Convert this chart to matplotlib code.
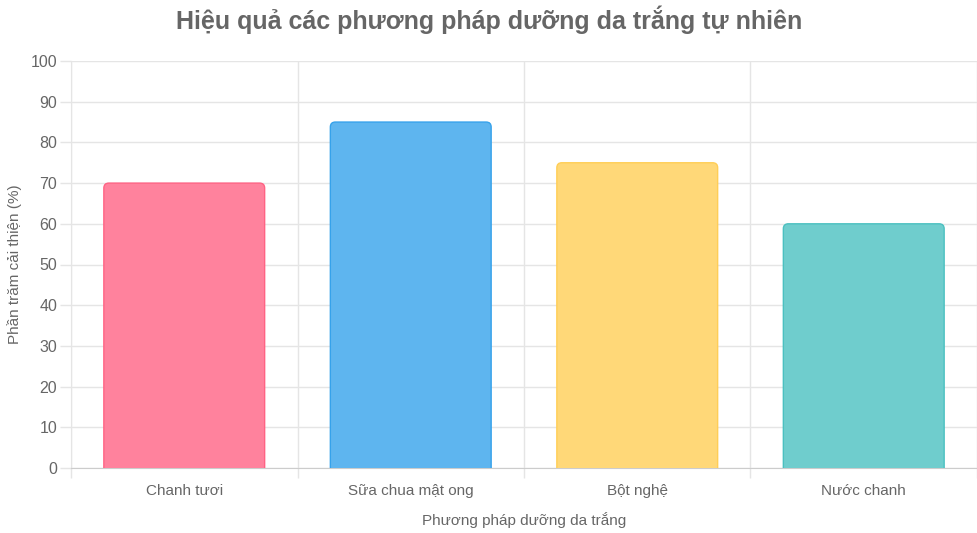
import numpy as np
import matplotlib.pyplot as plt
from matplotlib.patches import FancyBboxPatch

plt.rcParams['font.family'] = ['Liberation Sans', 'DejaVu Sans']

# data
methods = ['Chanh tươi', 'Sữa chua mật ong', 'Bột nghệ', 'Nước chanh']
improvement = [70, 85, 75, 60]
fill_colors = ['#ff829d', '#5eb5ef', '#ffd878', '#6fcdcd']
edge_colors = ['#ff6384', '#36a2eb', '#ffce56', '#4bc0c0']

fig = plt.figure(figsize=(9.78, 5.33), dpi=100)
ax = fig.add_axes([71/978, 65/533, 906/978, 407/533])

x = np.arange(len(methods))
width = 0.71
# rounded top corners (radius ~5px), bottom pushed below 0 and clipped
rx = 5/226.5
ry = 5/4.07
for i in range(len(methods)):
    box = FancyBboxPatch((x[i] - width/2, -3), width, improvement[i] + 3,
                         boxstyle="round,pad=0,rounding_size=%f" % rx,
                         mutation_aspect=ry/rx,
                         facecolor=fill_colors[i], edgecolor=edge_colors[i],
                         linewidth=1, zorder=3)
    ax.add_patch(box)

ax.set_xlim(-0.5, len(methods) - 0.5)
ax.set_ylim(0, 100)

grid_c = '#e5e5e5'
ax.set_yticks(np.arange(0, 101, 10))
ax.set_xticks(np.arange(-0.5, len(methods), 1))
ax.set_xticklabels([])
ax.set_xticks(x, minor=True)
ax.set_xticklabels(methods, minor=True)
ax.tick_params(axis='x', which='minor', length=0, pad=11.5, labelsize=11, labelcolor='#666666')
ax.tick_params(axis='x', which='major', length=7.5, color=grid_c, width=1)
ax.tick_params(axis='y', length=8, color=grid_c, width=1, labelsize=11.5, labelcolor='#666666', pad=2)
ax.grid(True, which='major', color=grid_c, linewidth=1, zorder=0)
ax.set_axisbelow(True)

for s in ['top', 'right']:
    ax.spines[s].set_visible(False)
ax.spines['left'].set_color(grid_c)
ax.spines['bottom'].set_color('#cccccc')

ax.set_xlabel('Phương pháp dưỡng da trắng', fontsize=11, color='#666666', labelpad=10)
ax.set_ylabel('Phần trăm cải thiện (%)', fontsize=11, color='#666666', labelpad=6)
fig.text(0.5, 1 - 20/533, 'Hiệu quả các phương pháp dưỡng da trắng tự nhiên',
         ha='center', va='center', fontsize=18, fontweight='bold', color='#666666')

fig.savefig('out.png', dpi=100)
